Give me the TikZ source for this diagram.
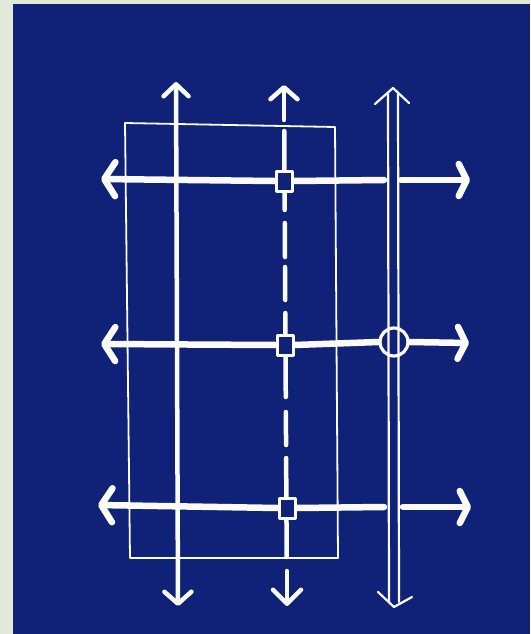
\documentclass[tikz,border=0pt]{standalone}
\usetikzlibrary{arrows.meta}
\definecolor{bp}{RGB}{16,34,120}
\definecolor{paper}{RGB}{226,233,216}
\definecolor{chalk}{RGB}{250,250,246}
\begin{document}
\begin{tikzpicture}[x=1pt,y=-1pt,line cap=round,line join=round,
  hl/.style={draw=chalk,line width=6.5pt},
  vl/.style={draw=chalk,line width=4.5pt},
  thinl/.style={draw=chalk,line width=1.8pt},
  dbl/.style={draw=chalk,line width=2.2pt},
  lefthead/.style={-{Straight Barb[length=11pt,width=34pt,round]}},
  righthead/.style={-{Straight Barb[length=8pt,width=32pt,round]}},
  vhead/.style={{Straight Barb[length=12pt,width=25pt,round]}-{Straight Barb[length=12pt,width=27pt,round]}},
  sqbox/.style={rectangle,draw=chalk,line width=3pt,fill=bp,minimum width=16pt,minimum height=20pt,inner sep=0pt},
  ringbox/.style={circle,draw=chalk,line width=3.2pt,minimum size=28pt,inner sep=0pt}]
\fill[paper] (0,0) rectangle (530,634);
\fill[bp] (13,4) rectangle (530,634);
\useasboundingbox (0,0) rectangle (530,634);
% frame rectangle
\coordinate (r1) at (125,123);
\coordinate (r2) at (335,127);
\coordinate (r3) at (338,558);
\coordinate (r4) at (130,558);
\draw[thinl] (r1) -- (r2) -- (r3) -- (r4) -- cycle;
% left vertical arrow
\coordinate (vt) at (176,82);
\coordinate (vb) at (178,606);
\draw[vl,vhead] (vt) -- (vb);
% dashed vertical arrow
\coordinate (dt) at (284,85);
\coordinate (db) at (287,606);
\draw[vl,{Straight Barb[length=12pt,width=27pt,round]}-] (dt) -- (284,120);
\draw[vl,-{Straight Barb[length=14pt,width=28pt,round]}] (287,571) -- (db);
\foreach \a/\b in {131/170,192/210,223/257,267/300,313/337,355/397,412/445,458/497,518/557}
  \draw[vl] ({284+0.0057*(\a-85)},\a) -- ({284+0.0057*(\b-85)},\b);
% double-line arrow
\coordinate (wt) at (393,88);
\coordinate (wb) at (394,607);
\draw[dbl] (388,94) -- (389,602);
\draw[dbl] (398,94) -- (399,602);
\draw[dbl] (375,104) -- (wt) -- (409,103);
\draw[dbl] (378,592) -- (wb) -- (412,597);
% squares and ring
\node[sqbox] (sq1) at (284,181) {};
\node[sqbox] (sq2) at (285,345) {};
\node[sqbox] (sq3) at (287,508) {};
\node[ringbox] (ring) at (394,342) {};
% row 1
\coordinate (L1) at (101,179);
\coordinate (g1a) at (384,180);
\coordinate (g1b) at (401,180);
\coordinate (R1) at (470,180);
\draw[hl,lefthead] (sq1.west) -- (L1);
\draw[hl] (sq1.east) -- (g1a);
\draw[hl,righthead] (g1b) -- (R1);
% row 2
\coordinate (L2) at (101,344);
\coordinate (R2) at (469,343);
\draw[hl,lefthead] (sq2.west) -- (L2);
\draw[hl] (sq2.east) -- (ring.west);
\draw[hl,righthead] (ring.east) -- (R2);
% row 3
\coordinate (L3) at (98,505);
\coordinate (g3a) at (384,507);
\coordinate (g3b) at (403,507);
\coordinate (R3) at (471,507);
\draw[hl,lefthead] (sq3.west) -- (L3);
\draw[hl] (sq3.east) -- (g3a);
\draw[hl,righthead] (g3b) -- (R3);
% redraw boxes on top
\node[sqbox] at (sq1) {};
\node[sqbox] at (sq2) {};
\node[sqbox] at (sq3) {};
\end{tikzpicture}
\end{document}
